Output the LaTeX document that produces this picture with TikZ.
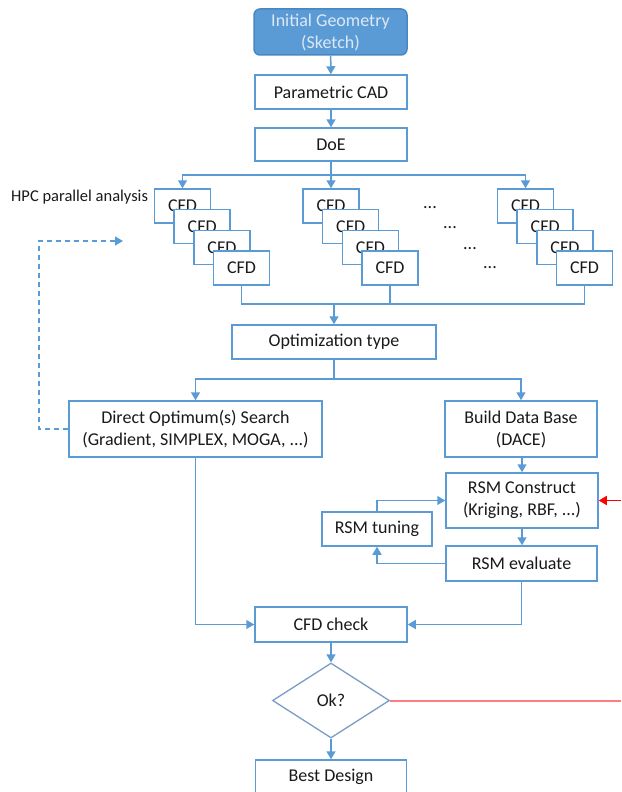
\documentclass[tikz,border=0pt]{standalone}
\usepackage{fontspec}
\setmainfont{Carlito}
\usetikzlibrary{arrows.meta,shapes.geometric}
\definecolor{lblue}{HTML}{5B9BD5}
\definecolor{dblue}{HTML}{4A86C0}
\definecolor{txt}{HTML}{1A1A1A}
\definecolor{inittxt}{HTML}{DCE8F5}
\definecolor{pinkline}{HTML}{FF7C80}
\definecolor{diamc}{HTML}{7A9CC6}
\tikzset{
  box/.style={draw=lblue, line width=1.5pt, fill=white, inner sep=0pt, text=txt,
    font=\fontsize{18}{22}\selectfont, align=center},
  cfd/.style={box, minimum width=56pt, minimum height=34pt},
  conn/.style={draw=lblue, line width=1.5pt},
  arr/.style={conn, -{Triangle[length=8pt,width=9pt]}},
}
\begin{document}
\begin{tikzpicture}[x=1pt,y=-1pt]
\useasboundingbox (0,0) rectangle (621,792);
% top
\node[box, fill=lblue, draw=dblue, rounded corners=6pt, minimum width=153pt, minimum height=46pt, text=inittxt] (init) at (330.5,32) {Initial Geometry\\(Sketch)};
\node[box, minimum width=152pt, minimum height=34pt] (cad) at (331,92) {Parametric CAD};
\node[box, minimum width=152pt, minimum height=33pt] (doe) at (331,144.5) {DoE};
\draw[arr] (init) -- (cad);
\draw[arr] (cad) -- (doe);
% CFD groups
\foreach \g/\bx in {1/182.5, 2/331, 3/525.5} {
  \foreach \k in {0,...,3} {
    \node[cfd] (c\g\k) at (\bx+19.7*\k, 206+20.7*\k) {CFD};
  }
}
\node[anchor=west, inner sep=0pt, text=txt, font=\fontsize{16.5}{18}\selectfont] (hpc) at (11,197) {HPC parallel analysis};
\foreach \i/\x/\y in {1/430/208, 2/450/228, 3/470/249, 4/490/268} {
  \node[inner sep=0pt, text=txt, font=\fontsize{18}{20}\selectfont] (dots\i) at (\x,\y) {...};
}
\coordinate (j1) at (331,175);
\draw[conn] (doe) -- (j1);
\draw[arr] (j1) -| (c10.north);
\draw[arr] (j1) -- (c20.north);
\draw[arr] (j1) -| (c30.north);
% merge
\node[box, minimum width=204pt, minimum height=34pt] (opt) at (334,342) {Optimization type};
\coordinate (m) at (334,304);
\draw[conn] (c13.south) |- (m);
\draw[conn] (c23.south) |- (m);
\draw[conn] (c33.south) |- (m);
\draw[arr] (m) -- (opt);
% branch
\node[box, minimum width=253pt, minimum height=56pt] (dos) at (195.5,429) {Direct Optimum(s) Search\\(Gradient, SIMPLEX, MOGA, ...)};
\node[box, minimum width=152pt, minimum height=56pt] (bdb) at (521,429) {Build Data Base\\(DACE)};
\coordinate (b) at (334,379);
\draw[conn] (opt) -- (b);
\draw[arr] (b) -| (dos.north);
\draw[arr] (b) -| (bdb.north);
% RSM
\node[box, minimum width=152pt, minimum height=55pt] (rsmc) at (522,500.5) {RSM Construct\\(Kriging, RBF, ...)};
\node[box, minimum width=110pt, minimum height=34pt] (rsmt) at (377,529) {RSM tuning};
\node[box, minimum width=151pt, minimum height=35pt] (rsme) at (521.5,563.5) {RSM evaluate};
\draw[arr] (bdb.south -| rsmc) -- (rsmc.north);
\draw[arr] (rsmc.south) -- (rsmc.south |- rsme.north);
\draw[arr] (rsmt.north) |- (rsmc.west);
\draw[arr] (rsme.west) -| (rsmt.south);
% CFD check
\node[box, minimum width=152pt, minimum height=35pt] (cfdc) at (331,624.5) {CFD check};
\draw[arr] (rsme.south) |- (cfdc.east);
\draw[arr] (dos.south) |- (cfdc.west);
\node[diamond, draw=diamc, line width=1.3pt, fill=white, inner sep=0pt, minimum width=117pt, minimum height=75pt, text=txt, font=\fontsize{18}{22}\selectfont] (ok) at (331,700.5) {Ok?};
\draw[arr] (cfdc) -- (ok);
\node[box, minimum width=151pt, minimum height=34pt] (best) at (331,777) {Best Design};
\draw[arr] (ok) -- (best);
% red lines
\coordinate (r1) at (621,700.5);
\draw[draw=pinkline, line width=2pt] (ok.east) -- (r1);
\coordinate (r2) at (621,500.5);
\draw[draw=red, line width=1.5pt, -{Triangle[length=8pt,width=9pt]}] (r2) -- (rsmc.east);
% dashed feedback
\coordinate (dc) at (39,241);
\coordinate (dt) at (123,241);
\draw[arr, dashed, dash pattern=on 5pt off 4pt] (dos.west) -| (dc) -- (dt);
\end{tikzpicture}
\end{document}
